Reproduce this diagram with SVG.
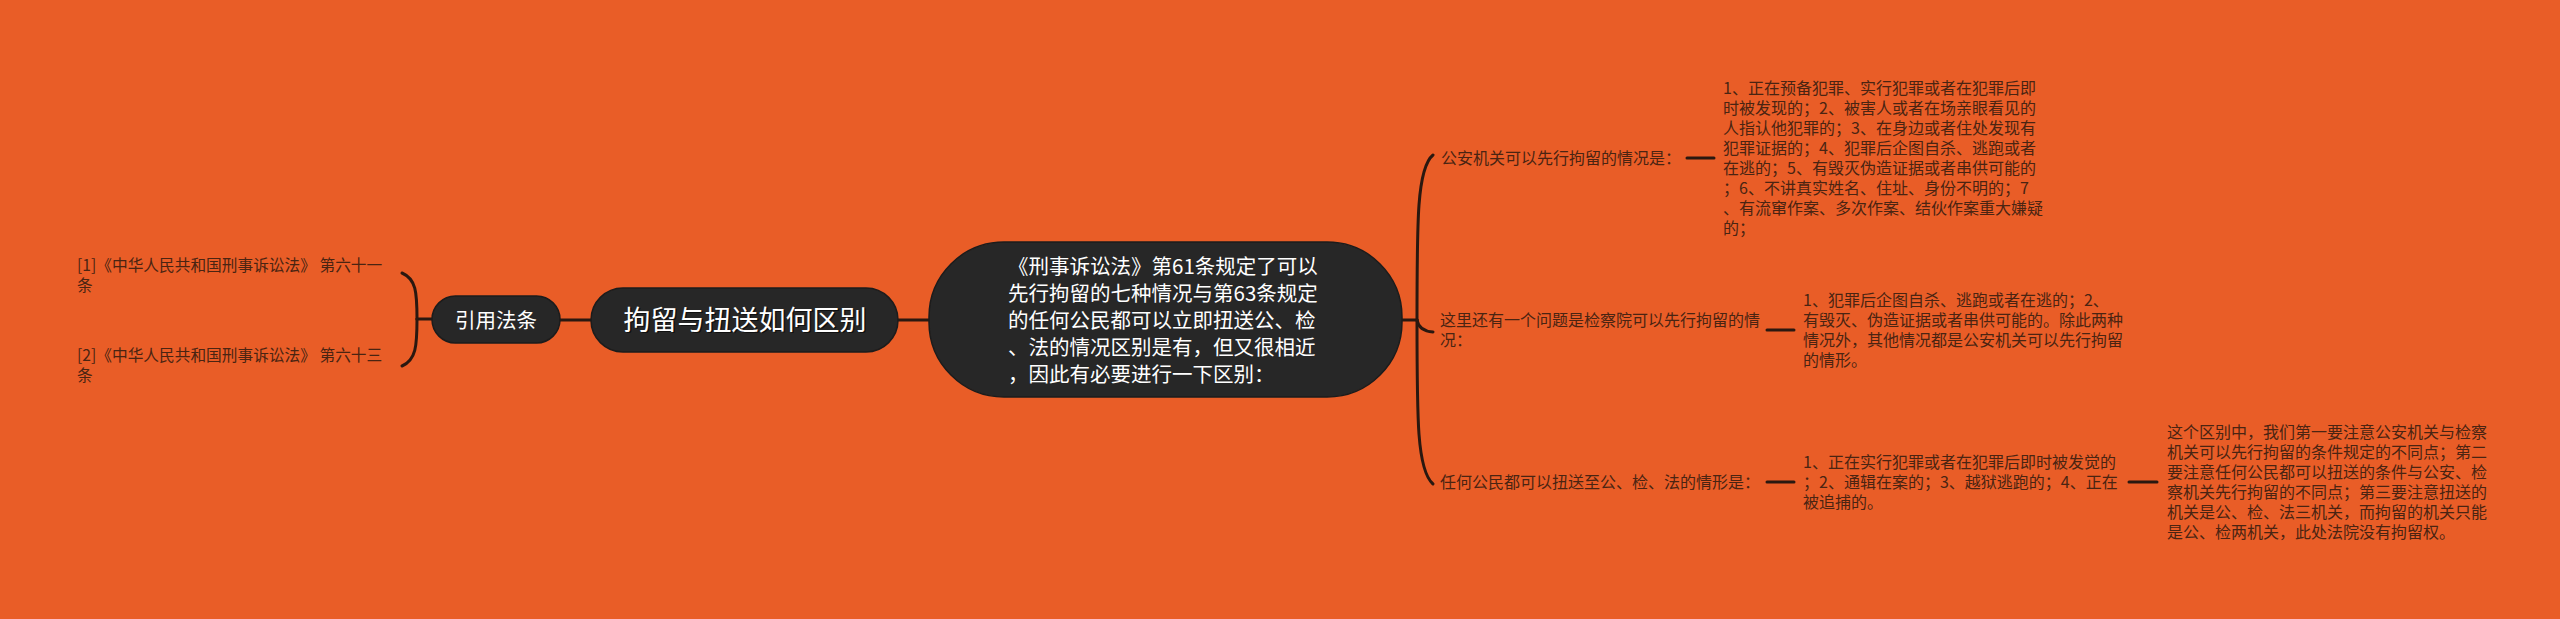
<svg xmlns="http://www.w3.org/2000/svg" width="2560" height="619" viewBox="0 0 2560 619">
<defs>
<style>
.bg{fill:#E95D27}
.node{fill:#272727;stroke:#1c1c1c;stroke-width:1.5}
.conn{fill:none;stroke:#2a1810;stroke-width:3;stroke-linecap:round}
.t{font-family:"Noto Sans CJK SC","Noto Sans",sans-serif;fill:#4a2412;font-size:16px}
.ref{font-size:15.7px}
.w{font-family:"Noto Sans CJK SC","Noto Sans",sans-serif;fill:#ffffff}
.sh{font-family:"Noto Sans CJK SC","Noto Sans",sans-serif;fill:#111111}
</style>
</defs>
<rect class="bg" x="0" y="0" width="2560" height="619"/>

<g id="connectors">
<path class="conn" d="M560,320 H591"/>
<path class="conn" d="M898,320 H929"/>
<path class="conn" d="M432,319 H417"/>
<path class="conn" d="M417,319 C417,292 416,279 402,273"/>
<path class="conn" d="M417,319 C417,346 416,360 402,366"/>
<path class="conn" d="M1402,320 H1417"/>
<path class="conn" d="M1417,320 C1417,220 1417,168 1433,155"/>
<path class="conn" d="M1417,320 Q1419,331 1433,332"/>
<path class="conn" d="M1417,320 C1417,420 1417,470 1433,484"/>
<path class="conn" d="M1687,158 H1714"/>
<path class="conn" d="M1767,330 H1794"/>
<path class="conn" d="M1767,482 H1794"/>
<path class="conn" d="M2129,482 H2157"/>
</g>

<g id="ref1">
<text class="t ref" x="77" y="270.5">[1]《中华人民共和国刑事诉讼法》 第六十一</text>
<text class="t ref" x="77" y="290.5">条</text>
</g>
<g id="ref2">
<text class="t ref" x="77" y="360.5">[2]《中华人民共和国刑事诉讼法》 第六十三</text>
<text class="t ref" x="77" y="380.5">条</text>
</g>

<g id="node-cite">
<rect class="node" x="432" y="296" width="128" height="47" rx="23.5"/>
<text class="w" x="496" y="327.5" font-size="20.5" text-anchor="middle">引用法条</text>
</g>

<g id="node-root">
<rect class="node" x="591" y="288" width="307" height="64" rx="32"/>
<text class="sh" x="746.5" y="331" font-size="27" text-anchor="middle">拘留与扭送如何区别</text>
<text class="w" x="745" y="329.5" font-size="27" text-anchor="middle">拘留与扭送如何区别</text>
</g>

<g id="node-main">
<rect class="node" x="929" y="242" width="473" height="155" rx="75"/>
<text class="w" font-size="20.5">
<tspan x="1008" y="273.5">《刑事诉讼法》第61条规定了可以</tspan>
<tspan x="1008" y="300.5">先行拘留的七种情况与第63条规定</tspan>
<tspan x="1008" y="327.5">的任何公民都可以立即扭送公、检</tspan>
<tspan x="1008" y="354.5">、法的情况区别是有，但又很相近</tspan>
<tspan x="1008" y="381.5">，因此有必要进行一下区别：</tspan>
</text>
</g>

<g id="branch-police">
<text class="t" x="1441" y="163.5">公安机关可以先行拘留的情况是：</text>
</g>
<g id="leaf-police">
<text class="t">
<tspan x="1723" y="93.6">1、正在预备犯罪、实行犯罪或者在犯罪后即</tspan>
<tspan x="1723" y="113.6">时被发现的；2、被害人或者在场亲眼看见的</tspan>
<tspan x="1723" y="133.6">人指认他犯罪的；3、在身边或者住处发现有</tspan>
<tspan x="1723" y="153.6">犯罪证据的；4、犯罪后企图自杀、逃跑或者</tspan>
<tspan x="1723" y="173.6">在逃的；5、有毁灭伪造证据或者串供可能的</tspan>
<tspan x="1723" y="193.6">；6、不讲真实姓名、住址、身份不明的；7</tspan>
<tspan x="1723" y="213.6">、有流窜作案、多次作案、结伙作案重大嫌疑</tspan>
<tspan x="1723" y="233.6">的；</tspan>
</text>
</g>

<g id="branch-procuratorate">
<text class="t">
<tspan x="1440" y="325.6">这里还有一个问题是检察院可以先行拘留的情</tspan>
<tspan x="1440" y="345.6">况：</tspan>
</text>
</g>
<g id="leaf-procuratorate">
<text class="t">
<tspan x="1803" y="305.6">1、犯罪后企图自杀、逃跑或者在逃的；2、</tspan>
<tspan x="1803" y="325.6">有毁灭、伪造证据或者串供可能的。除此两种</tspan>
<tspan x="1803" y="345.6">情况外，其他情况都是公安机关可以先行拘留</tspan>
<tspan x="1803" y="365.6">的情形。</tspan>
</text>
</g>

<g id="branch-citizen">
<text class="t" x="1440" y="487.6">任何公民都可以扭送至公、检、法的情形是：</text>
</g>
<g id="leaf-citizen">
<text class="t">
<tspan x="1803" y="467.6">1、正在实行犯罪或者在犯罪后即时被发觉的</tspan>
<tspan x="1803" y="487.6">；2、通辑在案的；3、越狱逃跑的；4、正在</tspan>
<tspan x="1803" y="507.6">被追捕的。</tspan>
</text>
</g>
<g id="leaf-summary">
<text class="t">
<tspan x="2167" y="437.6">这个区别中，我们第一要注意公安机关与检察</tspan>
<tspan x="2167" y="457.6">机关可以先行拘留的条件规定的不同点；第二</tspan>
<tspan x="2167" y="477.6">要注意任何公民都可以扭送的条件与公安、检</tspan>
<tspan x="2167" y="497.6">察机关先行拘留的不同点；第三要注意扭送的</tspan>
<tspan x="2167" y="517.6">机关是公、检、法三机关，而拘留的机关只能</tspan>
<tspan x="2167" y="537.6">是公、检两机关，此处法院没有拘留权。</tspan>
</text>
</g>
</svg>
